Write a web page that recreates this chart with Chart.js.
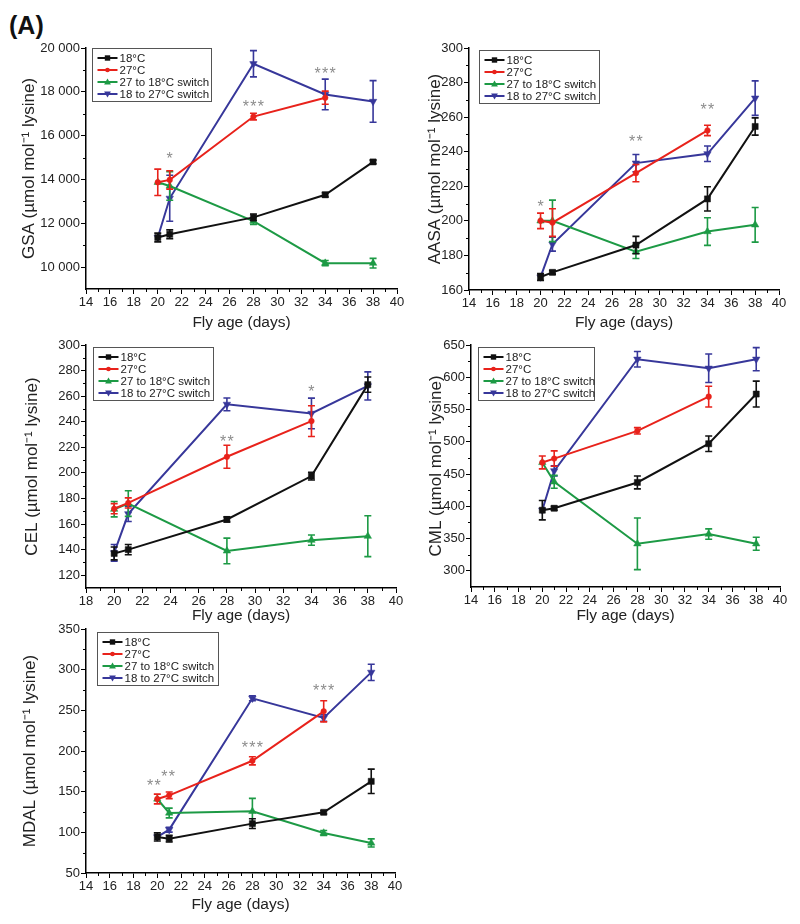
<!DOCTYPE html>
<html>
<head>
<meta charset="utf-8">
<script src="https://cdn.jsdelivr.net/npm/chart.js@4.4.0/dist/chart.umd.min.js"></script>
<style>
  body { margin: 0; background: #fff; width: 800px; height: 924px; position: relative; overflow: hidden; }
  .panel { position: absolute; }
  #tag { position: absolute; left: 9px; top: 13px; font: bold 25px 'Liberation Sans', Arial, sans-serif; line-height: 25px; color: #111; }
</style>
</head>
<body>
<div id="tag">(A)</div>
<div class="panel" id="p-gsa"><canvas></canvas></div>
<div class="panel" id="p-aasa"><canvas></canvas></div>
<div class="panel" id="p-cel"><canvas></canvas></div>
<div class="panel" id="p-cml"><canvas></canvas></div>
<div class="panel" id="p-mdal"><canvas></canvas></div>
<script>
// sampling days
const days = [20, 21, 28, 34, 38];
const daysWarm = [20, 21, 28, 34];   // 27°C flies were not sampled at day 38

const seriesLabels = ['18°C', '27°C', '27 to 18°C switch', '18 to 27°C switch'];

// tick labels
const xTicksFull = [14, 16, 18, 20, 22, 24, 26, 28, 30, 32, 34, 36, 38, 40];
const xTicksCel = [18, 20, 22, 24, 26, 28, 30, 32, 34, 36, 38, 40];
const gsaTicks = [10000, 12000, 14000, 16000, 18000, 20000];
const aasaTicks = [160, 180, 200, 220, 240, 260, 280, 300];
const celTicks = [120, 140, 160, 180, 200, 220, 240, 260, 280, 300];
const cmlTicks = [300, 350, 400, 450, 500, 550, 600, 650];
const mdalTicks = [50, 100, 150, 200, 250, 300, 350];

// GSA
const gsaCold = [11350, 11500, 12270, 13300, 14800];
const gsaColdErr = [200, 200, 150, 100, 80];
const gsaWarm = [13870, 13980, 16870, 17730];
const gsaWarmErr = [600, 420, 150, 300];
const gsaToCold = [13870, 13700, 12100, 10180, 10180];
const gsaToColdErr = [0, 650, 150, 120, 220];
const gsaToWarm = [11350, 13140, 19280, 17880, 17560];
const gsaToWarmErr = [0, 1050, 600, 700, 950];
const gsaStars = [[21, 15150, '*'], [28, 17500, '***'], [34, 19000, '***']];

// AASA
const aasaCold = [167.5, 170.2, 186, 212.7, 254.6];
const aasaColdErr = [2, 1, 5, 7, 5];
const aasaWarm = [200, 199, 227.6, 252.3];
const aasaWarmErr = [4.5, 8, 5, 3];
const aasaToCold = [200, 200, 182.2, 193.8, 197.7];
const aasaToColdErr = [0, 12, 4, 8, 10];
const aasaToWarm = [167.5, 186.5, 233.4, 238.8, 271];
const aasaToWarmErr = [0, 4, 5, 4.5, 10];
const aasaStars = [[20, 210.6, '*'], [28, 248.3, '**'], [34, 266.6, '**']];

// CEL
const celCold = [137, 140, 163.6, 197.5, 269];
const celColdErr = [5, 4, 2, 3, 6];
const celWarm = [172, 176.5, 212.6, 240.5];
const celWarmErr = [4, 4, 9, 12];
const celToCold = [171.6, 176, 139, 147.4, 150.5];
const celToColdErr = [6, 10, 10, 4, 16];
const celToWarm = [137.5, 168, 253.6, 246.5, 268];
const celToWarmErr = [6.5, 6, 5, 12, 11];
const celStars = [[28, 228, '**'], [34, 267, '*']];

// CML
const cmlCold = [394, 397, 437, 497, 574];
const cmlColdErr = [15, 3, 10, 12, 20];
const cmlWarm = [468, 474, 517, 570];
const cmlWarmErr = [10, 12, 5, 16];
const cmlToCold = [468, 438, 342, 357, 342];
const cmlToColdErr = [0, 10, 40, 8, 10];
const cmlToWarm = [394, 455, 628, 614, 628];
const cmlToWarmErr = [0, 8, 12, 22, 18];
const cmlStars = [];

// MDAL
const mdalCold = [94.3, 92.2, 110.7, 124.6, 162.7];
const mdalColdErr = [5, 4, 6, 2, 15];
const mdalWarm = [141, 145.5, 188, 248.8];
const mdalWarmErr = [6, 4, 5, 13];
const mdalToCold = [141, 123.8, 125.8, 99.2, 86.9];
const mdalToColdErr = [0, 6, 16, 3, 5];
const mdalToWarm = [94.3, 103.3, 264.8, 240.6, 296.7];
const mdalToWarmErr = [0, 3, 3, 4, 10];
const mdalStars = [[19.7, 162.7, '**'], [20.9, 173.8, '**'], [28, 209.8, '***'], [34, 278.7, '***']];

// styles
const FONT = "'Liberation Sans', Arial, Helvetica, sans-serif";
const TEXT = '#222';
const seriesStyle = [
    { color: '#111111', shape: 'rect', radius: 4.3, rotation: 0 },
    { color: '#e8221b', shape: 'circle', radius: 2.8, rotation: 0 },
    { color: '#1d9a45', shape: 'triangle', radius: 4.3, rotation: 0 },
    { color: '#37379a', shape: 'triangle', radius: 4.3, rotation: 180 }
];

Chart.defaults.font.family = FONT;
Chart.defaults.color = TEXT;

function fmt(v) {
    return String(v).replace(/\B(?=(\d{3})+(?!\d))/g, ' ');
}

function drawMarker(ctx, st, x, y) {
    ctx.fillStyle = st.color;
    ctx.beginPath();
    if (st.shape === 'rect') {
        ctx.rect(x - 2.7, y - 2.7, 5.4, 5.4);
    } else if (st.shape === 'circle') {
        ctx.arc(x, y, 2.3, 0, Math.PI * 2);
    } else if (st.rotation) {
        ctx.moveTo(x, y + 3.6); ctx.lineTo(x + 3.4, y - 2.4); ctx.lineTo(x - 3.4, y - 2.4); ctx.closePath();
    } else {
        ctx.moveTo(x, y - 3.6); ctx.lineTo(x + 3.4, y + 2.4); ctx.lineTo(x - 3.4, y + 2.4); ctx.closePath();
    }
    ctx.fill();
}

// error bars, drawn right after each line so stacking follows the datasets
const errorBars = {
    id: 'errorBars',
    afterDatasetDraw(chart, args) {
        const ds = chart.data.datasets[args.index];
        const xs = chart.scales.x, ys = chart.scales.y, ctx = chart.ctx;
        ctx.save();
        ctx.strokeStyle = ds.borderColor;
        ctx.lineWidth = 1.6;
        ctx.beginPath();
        ds.data.forEach((p, j) => {
            const e = ds.err[j];
            if (!e) return;
            const px = xs.getPixelForValue(p.x);
            const top = ys.getPixelForValue(p.y + e);
            const bot = ys.getPixelForValue(p.y - e);
            ctx.moveTo(px, top); ctx.lineTo(px, bot);
            ctx.moveTo(px - 3.5, top); ctx.lineTo(px + 3.5, top);
            ctx.moveTo(px - 3.5, bot); ctx.lineTo(px + 3.5, bot);
        });
        ctx.stroke();
        ctx.restore();
    }
};

const minorTicks = {
    id: 'minorTicks',
    afterDraw(chart) {
        const xs = chart.scales.x, ys = chart.scales.y, ctx = chart.ctx;
        ctx.save();
        ctx.strokeStyle = '#000';
        ctx.lineWidth = 1;
        ctx.beginPath();
        const xt = xs.ticks.map(t => t.value), xStep = xt[1] - xt[0];
        for (let v = xt[0] - xStep / 2; v <= xs.max; v += xStep) {
            if (v <= xs.min) continue;
            const p = Math.round(xs.getPixelForValue(v)) + 0.5;
            ctx.moveTo(p, xs.top); ctx.lineTo(p, xs.top + 3);
        }
        const yt = ys.ticks.map(t => t.value), yStep = yt[1] - yt[0];
        for (let v = yt[0] - yStep / 2; v <= ys.max; v += yStep) {
            if (v <= ys.min) continue;
            const p = Math.round(ys.getPixelForValue(v)) + 0.5;
            ctx.moveTo(ys.right, p); ctx.lineTo(ys.right - 3, p);
        }
        ctx.stroke();
        ctx.restore();
    }
};

function starsPlugin(items) {
    return {
        id: 'stars',
        afterDraw(chart) {
            const ctx = chart.ctx;
            ctx.save();
            ctx.fillStyle = '#8c8c8c';
            ctx.font = '16px ' + FONT;
            ctx.textAlign = 'center';
            ctx.textBaseline = 'alphabetic';
            items.forEach(([x, y, t]) => {
                const px = chart.scales.x.getPixelForValue(x);
                const py = chart.scales.y.getPixelForValue(y);
                for (let k = 0; k < t.length; k++) {
                    ctx.fillText('*', px + (k - (t.length - 1) / 2) * 7.5, py + 9.5);
                }
            });
            ctx.restore();
        }
    };
}

function legendPlugin(dx, dy, w) {
    return {
        id: 'legendBox',
        afterDraw(chart) {
            const ctx = chart.ctx;
            const x0 = Math.round(chart.chartArea.left + dx) + 0.5;
            const y0 = Math.round(chart.chartArea.top + dy) + 0.5;
            ctx.save();
            ctx.fillStyle = '#fff';
            ctx.fillRect(x0, y0, w, 53);
            ctx.strokeStyle = '#555';
            ctx.lineWidth = 1;
            ctx.strokeRect(x0, y0, w, 53);
            ctx.font = '11.5px ' + FONT;
            ctx.textBaseline = 'middle';
            chart.data.datasets.forEach((ds, i) => {
                const st = seriesStyle[i];
                const y = y0 + 9.5 + i * 12;
                ctx.strokeStyle = st.color;
                ctx.lineWidth = 2;
                ctx.beginPath();
                ctx.moveTo(x0 + 5, y); ctx.lineTo(x0 + 25, y);
                ctx.stroke();
                drawMarker(ctx, st, x0 + 15, y);
                ctx.fillStyle = TEXT;
                ctx.fillText(ds.label, x0 + 27, y + 0.5);
            });
            ctx.restore();
        }
    };
}

function makeChart(id, box, area, text, xTicks, yTicks, yRange, series, stars, leg) {
    const el = document.getElementById(id);
    Object.assign(el.style, { left: box.L + 'px', top: box.T + 'px', width: box.W + 'px', height: box.H + 'px' });
    const yW = area.l - box.L;
    const xH = box.T + box.H - area.b;
    const yFont = 17, xFont = 15.5;

    const datasets = series.map((s, i) => {
        const st = seriesStyle[i];
        const xs = i === 1 ? daysWarm : days;
        return {
            label: seriesLabels[i],
            data: xs.map((x, j) => ({ x: x, y: s[0][j] })),
            err: s[1],
            borderColor: st.color,
            backgroundColor: st.color,
            borderWidth: 2,
            pointStyle: st.shape,
            pointRotation: st.rotation,
            pointRadius: st.radius,
            pointBorderWidth: 0.5,
            tension: 0
        };
    });

    new Chart(el.querySelector('canvas'), {
        type: 'line',
        data: { datasets },
        options: {
            responsive: true,
            maintainAspectRatio: false,
            animation: false,
            events: [],
            layout: { padding: { top: area.t - box.T, right: box.L + box.W - area.r, left: 0, bottom: 0 } },
            plugins: { legend: { display: false }, tooltip: { enabled: false } },
            scales: {
                x: {
                    type: 'linear',
                    min: xTicks[0],
                    max: xTicks[xTicks.length - 1],
                    afterBuildTicks: s => { s.ticks = xTicks.map(v => ({ value: v })); },
                    afterFit: s => { s.height = xH; },
                    ticks: { autoSkip: false, maxRotation: 0, padding: 1, font: { size: 13 }, color: TEXT },
                    grid: { drawOnChartArea: false, tickLength: 5, tickColor: '#000', tickWidth: 1 },
                    border: { color: '#000', width: 1.5 },
                    title: {
                        display: true, text: 'Fly age (days)', color: TEXT, font: { size: xFont },
                        padding: { top: 0, bottom: (box.T + box.H - text.xTitleY) - xFont * 0.6 }
                    }
                },
                y: {
                    min: yRange[0],
                    max: yRange[1],
                    afterBuildTicks: s => { s.ticks = yTicks.map(v => ({ value: v })); },
                    afterFit: s => { s.width = yW; },
                    ticks: { padding: 1, font: { size: 13 }, color: TEXT, callback: v => fmt(v) },
                    grid: { drawOnChartArea: false, tickLength: 5, tickColor: '#000', tickWidth: 1 },
                    border: { color: '#000', width: 1.5 },
                    title: {
                        display: true, text: text.yTitle, color: TEXT, font: { size: yFont },
                        padding: { top: (text.yTitleX - box.L) - yFont * 0.6, bottom: 0 }
                    }
                }
            }
        },
        plugins: [errorBars, minorTicks, starsPlugin(stars), legendPlugin(leg.dx, leg.dy, leg.w)]
    });
}

makeChart('p-gsa',
    { L: 0, T: 0, W: 412, H: 345 }, { l: 86, t: 48, r: 397, b: 289 },
    { yTitle: 'GSA (µmol mol⁻¹ lysine)', yTitleX: 29, xTitleY: 323 },
    xTicksFull, gsaTicks, [9000, 20000],
    [[gsaCold, gsaColdErr], [gsaWarm, gsaWarmErr], [gsaToCold, gsaToColdErr], [gsaToWarm, gsaToWarmErr]],
    gsaStars, { dx: 6, dy: 0, w: 119 });

makeChart('p-aasa',
    { L: 400, T: 0, W: 395, H: 345 }, { l: 469, t: 48, r: 779, b: 290 },
    { yTitle: 'AASA (µmol mol⁻¹ lysine)', yTitleX: 435, xTitleY: 323 },
    xTicksFull, aasaTicks, [160, 300],
    [[aasaCold, aasaColdErr], [aasaWarm, aasaWarmErr], [aasaToCold, aasaToColdErr], [aasaToWarm, aasaToWarmErr]],
    aasaStars, { dx: 10, dy: 2, w: 120 });

makeChart('p-cel',
    { L: 0, T: 300, W: 412, H: 330 }, { l: 86, t: 345, r: 396, b: 588 },
    { yTitle: 'CEL (µmol mol⁻¹ lysine)', yTitleX: 32, xTitleY: 616 },
    xTicksCel, celTicks, [110, 300],
    [[celCold, celColdErr], [celWarm, celWarmErr], [celToCold, celToColdErr], [celToWarm, celToWarmErr]],
    celStars, { dx: 7, dy: 2, w: 120 });

makeChart('p-cml',
    { L: 400, T: 300, W: 395, H: 330 }, { l: 471, t: 345, r: 780, b: 587 },
    { yTitle: 'CML (µmol mol⁻¹ lysine)', yTitleX: 436, xTitleY: 616 },
    xTicksFull, cmlTicks, [275, 650],
    [[cmlCold, cmlColdErr], [cmlWarm, cmlWarmErr], [cmlToCold, cmlToColdErr], [cmlToWarm, cmlToWarmErr]],
    cmlStars, { dx: 7, dy: 2, w: 116 });

makeChart('p-mdal',
    { L: 0, T: 590, W: 412, H: 334 }, { l: 86, t: 629, r: 395, b: 873 },
    { yTitle: 'MDAL (µmol mol⁻¹ lysine)', yTitleX: 30, xTitleY: 905 },
    xTicksFull, mdalTicks, [50, 350],
    [[mdalCold, mdalColdErr], [mdalWarm, mdalWarmErr], [mdalToCold, mdalToColdErr], [mdalToWarm, mdalToWarmErr]],
    mdalStars, { dx: 11, dy: 3, w: 121 });
</script>
</body>
</html>
